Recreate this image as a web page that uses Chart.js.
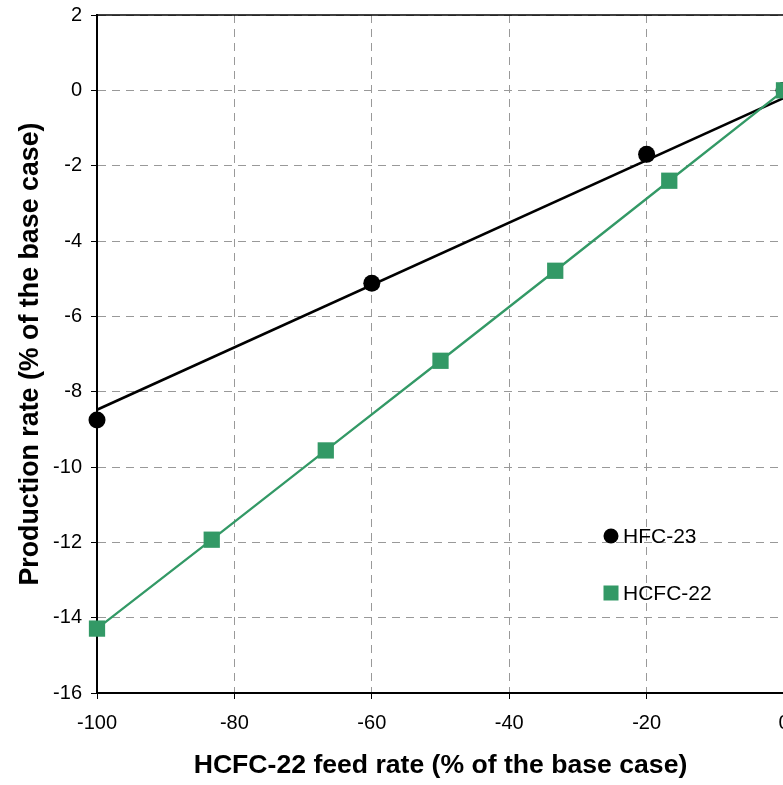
<!DOCTYPE html>
<html>
<head>
<meta charset="utf-8">
<script src="https://cdn.jsdelivr.net/npm/chart.js@4"></script>
<style>
  html, body { margin: 0; padding: 0; background: #fff; overflow: hidden; }
  #wrap { width: 840px; height: 785px; }
</style>
</head>
<body>
<div id="wrap"><canvas id="chart" width="840" height="785"></canvas></div>
<script>
// feed rate change (% of base case)
const hfc23Feed = [-100, -60, -20, 0];
const hfc23Rate = [-8.75, -5.12, -1.70, 0];
// trend line drawn through HFC-23 points
const hfc23TrendFeed = [-100, 0];
const hfc23TrendRate = [-8.48, -0.2];

const hcfc22Feed = [-100, -83.3, -66.7, -50, -33.3, -16.7, 0];
const hcfc22Rate = [-14.29, -11.93, -9.56, -7.18, -4.79, -2.40, 0];

const seriesNames = ['HFC-23', 'HCFC-22'];
const xTickStep = 20, xMin = -100, xMax = 0;
const yTickStep = 2, yMin = -16, yMax = 2;

const GREEN = '#339966';
const GRID = '#999999';
const FONT = "'Liberation Sans', Arial, sans-serif";

const toPts = (xs, ys) => xs.map((x, i) => ({ x: x, y: ys[i] }));

// solid frame line along the top of the plot
const topFrame = {
    id: 'topFrame',
    beforeDatasetsDraw(chart) {
        const { ctx, chartArea: { left, right, top } } = chart;
        ctx.save();
        ctx.strokeStyle = '#000';
        ctx.lineWidth = 1.5;
        ctx.beginPath();
        ctx.moveTo(left, top);
        ctx.lineTo(right, top);
        ctx.stroke();
        ctx.restore();
    }
};

// legend sitting inside the plot area
const innerLegend = {
    id: 'innerLegend',
    afterDraw(chart) {
        const { ctx, chartArea } = chart;
        const x = chartArea.left + 514;
        const y0 = chartArea.top + 521;
        const gap = 57;
        ctx.save();
        ctx.font = '21px ' + FONT;
        ctx.textBaseline = 'middle';
        ctx.textAlign = 'left';
        ctx.fillStyle = '#000';
        // HFC-23 marker
        ctx.beginPath();
        ctx.arc(x, y0, 7.5, 0, Math.PI * 2);
        ctx.fill();
        ctx.fillText(seriesNames[0], x + 12, y0 + 1);
        // HCFC-22 marker
        ctx.fillStyle = GREEN;
        ctx.fillRect(x - 7.5, y0 + gap - 7.5, 15, 15);
        ctx.fillStyle = '#000';
        ctx.fillText(seriesNames[1], x + 12, y0 + gap + 1);
        ctx.restore();
    }
};

new Chart(document.getElementById('chart'), {
    type: 'scatter',
    data: {
        datasets: [
            {
                label: seriesNames[1],
                data: toPts(hcfc22Feed, hcfc22Rate),
                showLine: true,
                clip: false,
                borderColor: GREEN,
                borderWidth: 2.3,
                backgroundColor: GREEN,
                pointStyle: 'rect',
                pointRadius: 11.5,
                pointBorderWidth: 0,
                pointBackgroundColor: GREEN,
                order: 0
            },
            {
                label: seriesNames[0],
                data: toPts(hfc23Feed, hfc23Rate),
                showLine: false,
                clip: false,
                backgroundColor: '#000',
                borderColor: '#000',
                pointRadius: 8.5,
                pointBorderWidth: 0,
                order: 1
            },
            {
                label: 'trend',
                data: toPts(hfc23TrendFeed, hfc23TrendRate),
                showLine: true,
                borderColor: '#000',
                borderWidth: 2.6,
                pointRadius: 0,
                order: 2
            }
        ]
    },
    options: {
        responsive: false,
        animation: false,
        layout: { padding: { top: 15, right: 56, bottom: 0, left: 0 } },
        plugins: {
            legend: { display: false },
            tooltip: { enabled: false }
        },
        scales: {
            x: {
                type: 'linear',
                min: xMin,
                max: xMax,
                ticks: {
                    stepSize: xTickStep,
                    color: '#000',
                    font: { family: FONT, size: 20 },
                    padding: 12
                },
                grid: {
                    color: GRID,
                    lineWidth: 1,
                    borderDash: [8, 6],
                    tickLength: 6,
                    tickColor: '#000',
                    tickWidth: 1,
                    tickBorderDash: []
                },
                border: { display: true, color: '#000', width: 2, dash: [8, 6] },
                title: {
                    display: true,
                    text: 'HCFC-22 feed rate (% of the base case)',
                    color: '#000',
                    font: { family: FONT, size: 26.6, weight: 'bold' },
                    padding: { top: 0, bottom: 3 }
                },
                afterFit(scale) {
                    scale.height = 92;
                    scale.paddingLeft = 0;
                    scale.paddingRight = 0;
                }
            },
            y: {
                type: 'linear',
                min: yMin,
                max: yMax,
                ticks: {
                    stepSize: yTickStep,
                    color: '#000',
                    font: { family: FONT, size: 20 },
                    padding: 9
                },
                grid: {
                    color: GRID,
                    lineWidth: 1,
                    borderDash: [8, 6],
                    tickLength: 6,
                    tickColor: '#000',
                    tickWidth: 1,
                    tickBorderDash: []
                },
                border: { display: true, color: '#000', width: 2, dash: [8, 6] },
                title: {
                    display: true,
                    text: 'Production rate (% of the base case)',
                    color: '#000',
                    font: { family: FONT, size: 26.8, weight: 'bold' },
                    padding: { top: 15, bottom: 0 }
                },
                afterFit(scale) {
                    scale.width = 97;
                    scale.paddingTop = 0;
                    scale.paddingBottom = 0;
                }
            }
        }
    },
    plugins: [topFrame, innerLegend]
});
</script>
</body>
</html>
